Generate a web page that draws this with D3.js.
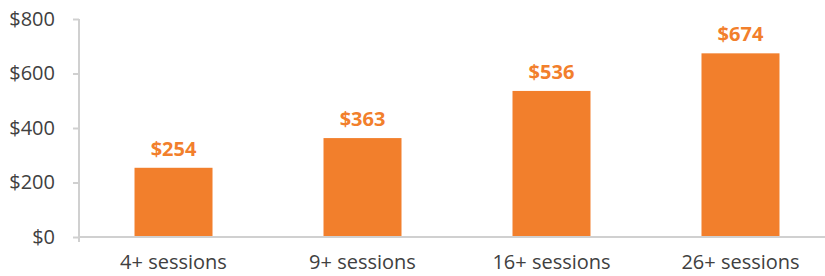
<!DOCTYPE html>
<html>
<head>
<meta charset="utf-8">
<script src="https://cdn.jsdelivr.net/npm/d3@7"></script>
<style>
  body { margin: 0; background: #fff; }
  text { font-family: "Open Sans", sans-serif; }
</style>
</head>
<body>
<svg id="chart" width="825" height="276"></svg>
<script>
const categories = ['4+ sessions', '9+ sessions', '16+ sessions', '26+ sessions']
const values = [254, 363, 536, 674]
const yTicks = [0, 200, 400, 600, 800]

const svg = d3.select('#chart')
const mLeft = 79, mRight = 835, mTop = 19, mBottom = 237
const orange = '#f27f2c'
const axisGray = '#d0d0d0'

const x = d3.scaleBand()
  .domain(categories)
  .range([mLeft, mRight])
  .paddingInner(0.5873)
  .paddingOuter(0.2937)

const y = d3.scaleLinear()
  .domain([0, 800])
  .range([mBottom, mTop])

// y axis
const yAxis = svg.append('g')
  .attr('transform', `translate(${mLeft},0)`)
  .call(d3.axisLeft(y).tickValues(yTicks).tickSize(6).tickPadding(18)
    .tickFormat(d => '$' + d))
yAxis.select('.domain').attr('stroke', axisGray).attr('stroke-width', 2)
  .attr('d', `M0,${mTop}V${mBottom + 5}`)
yAxis.selectAll('.tick line').attr('stroke', axisGray).attr('stroke-width', 2)
yAxis.selectAll('.tick text')
  .attr('fill', '#404040')
  .style('font-size', '20px')

// bars
svg.append('g')
  .selectAll('rect')
  .data(values)
  .join('rect')
  .attr('x', (d, i) => x(categories[i]))
  .attr('y', d => y(d))
  .attr('width', x.bandwidth())
  .attr('height', d => y(0) - y(d))
  .attr('fill', orange)

// x axis
const xAxis = svg.append('g')
  .attr('transform', `translate(0,${mBottom})`)
  .call(d3.axisBottom(x).tickSize(0).tickPadding(18))
xAxis.select('.domain').attr('stroke', axisGray).attr('stroke-width', 2)
  .attr('d', `M${mLeft},0H825`)
xAxis.selectAll('.tick text')
  .attr('fill', '#404040')
  .style('font-size', '20px')

// value labels
svg.append('g')
  .selectAll('text')
  .data(values)
  .join('text')
  .attr('x', (d, i) => x(categories[i]) + x.bandwidth() / 2)
  .attr('y', d => y(d) - 12)
  .attr('text-anchor', 'middle')
  .attr('fill', orange)
  .style('font-size', '20px')
  .style('font-weight', 'bold')
  .text(d => '$' + d)
</script>
</body>
</html>
